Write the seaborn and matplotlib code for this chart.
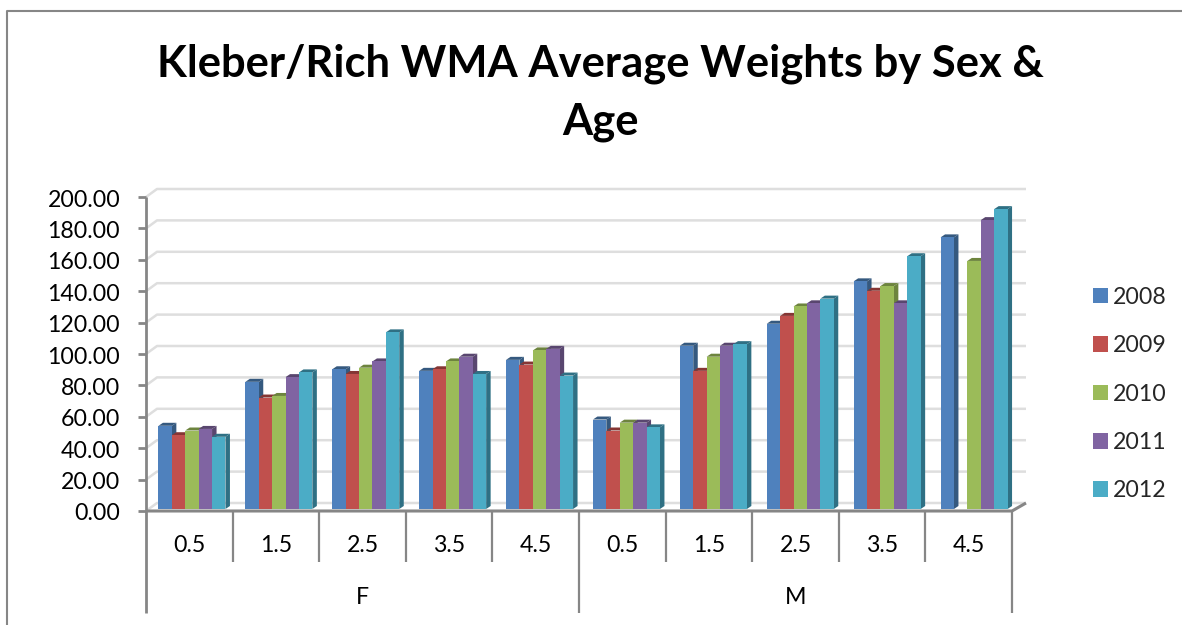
import matplotlib
matplotlib.use("Agg")
import matplotlib.pyplot as plt
from matplotlib.transforms import ScaledTranslation
import numpy as np
import pandas as pd
import seaborn as sns

title = "Kleber/Rich WMA Average Weights by Sex &\nAge"
ages = ["0.5", "1.5", "2.5", "3.5", "4.5", "0.5", "1.5", "2.5", "3.5", "4.5"]
sexes = ["F", "M"]
years = ["2008", "2009", "2010", "2011", "2012"]
y2008 = [53, 81, 89, 88, 95, 57, 104, 118, 145, 173]
y2009 = [47, 71, 86, 89, 92, 50, 88, 123, 139, np.nan]
y2010 = [50, 72, 90, 94, 101, 55, 97, 129, 142, 158]
y2011 = [51, 84, 94, 97, 102, 55, 104, 131, 131, 184]
y2012 = [46, 87, 112.5, 86, 85, 52, 105, 134, 161, 191]
yticks = [0, 20, 40, 60, 80, 100, 120, 140, 160, 180, 200]
colors = ["#4F81BD", "#C0504D", "#9BBB59", "#8064A2", "#4BACC6"]
sides = ["#35597F", "#853634", "#6D843E", "#59466F", "#2F7084"]

W, H = 1182, 625
GRAY = "#868686"
GRID = "#DEDEDE"

sns.set_theme(style="white")
plt.rcParams["font.family"] = ["Lato", "DejaVu Sans"]

keys = [f"{sexes[i // 5]} {ages[i]}" for i in range(10)]
df = pd.DataFrame({"group": keys, "2008": y2008, "2009": y2009, "2010": y2010,
                   "2011": y2011, "2012": y2012})
df = df.melt(id_vars="group", var_name="year", value_name="weight")

fig = plt.figure(figsize=(W / 100, H / 100), dpi=100)

# pixel canvas behind the chart for the walls, axis lines and border
bg = fig.add_axes([0, 0, 1, 1])
bg.set_xlim(0, W)
bg.set_ylim(H, 0)
bg.axis("off")


def line(xs, ys, color=GRAY, lw=1.5):
    bg.plot(xs, ys, color=color, lw=lw, solid_capstyle="butt")


# chart border
line([7, 7, 1182], [H, 11, 11], lw=1.5)

# walls
px_unit = 1.57
for v in yticks:
    y = 511 - v * px_unit
    line([146, 157, 1026], [y, y - 8, y - 8], color=GRID, lw=1.8)
    line([138, 146], [y, y], lw=2)

# axes lines
line([146, 146], [197, 613], lw=2)
line([146, 1012, 1026], [511, 511, 503], lw=2.2)
for i in range(1, 11):
    x = 146 + i * 86.6
    line([x, x], [511, 562], lw=1.6)
line([146 + 5 * 86.6] * 2, [562, 613], lw=1.6)
line([1012, 1012], [562, 613], lw=1.6)

ax = fig.add_axes([148.5 / W, 1 - 509 / H, 869 / W, 314 / H])
ax.patch.set_alpha(0)
sns.barplot(data=df, x="group", y="weight", hue="year", order=keys, hue_order=years,
            palette=colors, saturation=1, width=0.771, gap=0, errorbar=None,
            linewidth=0, ax=ax)
ax.set_xlim(-0.5, 9.5)
ax.set_ylim(0, 200)
sns.despine(ax=ax, left=True, bottom=True)
ax.set_xlabel("")
ax.set_ylabel("")

# fake depth on each bar
dx = 4.5 / 86.9
dy = 3 / px_unit
for cont, side in zip(ax.containers, sides):
    for bar in cont:
        h = bar.get_height()
        if np.isnan(h):
            continue
        x0 = bar.get_x()
        x1 = x0 + bar.get_width()
        ax.fill([x1, x1 + dx, x1 + dx, x1], [0, dy, h + dy, h], color=side, lw=0,
                zorder=0.9, clip_on=False)
        ax.fill([x0, x0 + dx, x1 + dx, x1], [h, h + dy, h + dy, h], color=side, lw=0,
                zorder=0.9, clip_on=False)
ax.set_xlim(-0.5, 9.5)
ax.set_ylim(0, 200)

ax.set_yticks(yticks)
ax.set_yticklabels([f"{v:.2f}" for v in yticks])
ax.set_xticks(range(10))
ax.set_xticklabels(ages)
ax.tick_params(axis="y", length=0, pad=20.4, labelsize=16.7, labelcolor="black")
ax.tick_params(axis="x", length=0, pad=18.5, labelsize=16.7, labelcolor="black")
for lab in ax.get_yticklabels():
    lab.set_transform(lab.get_transform() + ScaledTranslation(0, -0.03, fig.dpi_scale_trans))
# labels sit in the axis cells, a bit left of the bar groups
for i, lab in enumerate(ax.get_xticklabels()):
    lab.set_transform(lab.get_transform() + ScaledTranslation(-(2.7 + 0.3 * i) / 100, 0, fig.dpi_scale_trans))

bg.text(146 + 2.5 * 86.6, 597, sexes[0], ha="center", va="center", fontsize=16.7, color="black")
bg.text(146 + 7.5 * 86.6, 597, sexes[1], ha="center", va="center", fontsize=16.7, color="black")
bg.text(600, 93, title, ha="center", va="center", fontsize=31.3, fontweight="bold",
        color="black", linespacing=1.52)

sns.move_legend(ax, "upper left", bbox_to_anchor=(1072 / W, 1 - 266 / H),
                bbox_transform=fig.transFigure, frameon=False, title=None, fontsize=16.7,
                handlelength=0.65, handleheight=0.65, handletextpad=0.2, labelspacing=1.18)

fig.savefig("out.png", dpi=100)
